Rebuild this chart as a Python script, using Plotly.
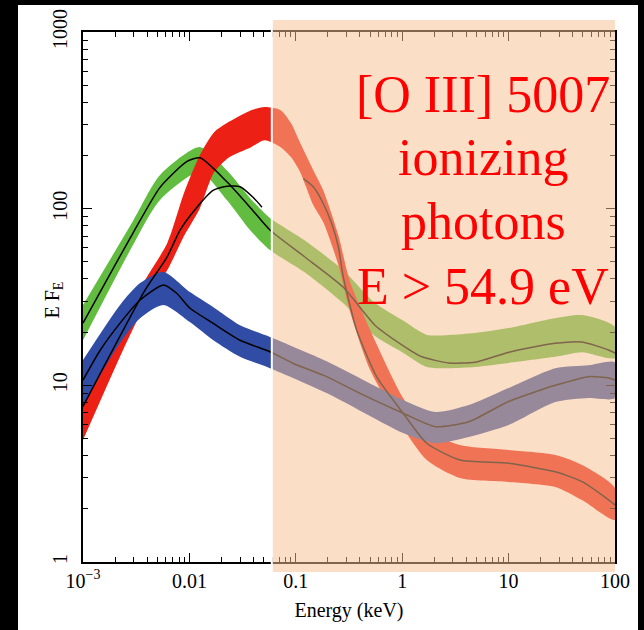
import numpy as np
import plotly.graph_objects as go

# ---------------- data ----------------
# Green model: centre line
green_E = [0.001, 0.00295, 0.0053, 0.0095, 0.0126, 0.0225, 0.0371, 0.0572, 0.12, 0.278,
           0.555, 1.0, 1.53, 2.75, 4.83, 10.1, 27.3, 49, 88, 100]
green_F = [22.5, 72.8, 132, 185, 194, 142, 102, 75.7, 53.6, 36,
           21.9, 16.9, 14.5, 13.4, 13.5, 15.4, 17.3, 17.6, 15.8, 15.2]
# Green band
green_bE = [0.001, 0.00295, 0.0053, 0.0126, 0.0225, 0.0371, 0.0572, 0.12, 0.278, 0.555,
            1.0, 1.7, 2.75, 4.83, 10, 27.3, 49, 100]
green_hi = [28.5, 85.1, 155, 223, 165, 115, 88.5, 66.4, 44.9, 29.2,
            23.4, 19.3, 19.3, 19.8, 21.1, 24.0, 25.0, 21.4]
green_lo = [18.0, 62.2, 112, 161, 112, 75.7, 58.3, 43.8, 29.2, 19.0,
            15.4, 12.7, 12.5, 12.7, 13.4, 14.5, 15.4, 14.3]

# Blue model
blue_E = [0.001, 0.00145, 0.00223, 0.00344, 0.00569, 0.00759, 0.01015, 0.0168, 0.0299, 0.0572,
          0.0948, 0.195, 0.401, 1.02, 2.05, 4.22, 10, 27.5, 56.5, 87.6, 100]
blue_F = [10.7, 15.8, 22.5, 30.4, 37, 33.2, 27.3, 22.4, 18, 15.5,
          13.3, 11.2, 9.0, 6.95, 5.83, 6.22, 8.1, 10.0, 11.2, 11.0, 10.7]
blue_bE = [0.001, 0.00223, 0.00344, 0.00569, 0.0101, 0.0168, 0.0299, 0.0572, 0.195, 1.02,
           2.05, 4.22, 10, 27.5, 56.5, 100]
blue_hi = [13.9, 28.5, 37.9, 43.8, 33.7, 27.7, 21.9, 18.8, 13.7, 8.26,
           7.06, 7.73, 9.65, 12.5, 13.0, 13.5]
blue_lo = [7.7, 17.4, 24.0, 28.5, 22.8, 18.0, 14.5, 12.5, 9.04, 5.37,
           4.71, 5.1, 5.96, 8.04, 8.47, 8.47]

# Red model: two pieces of centre line
red_E1 = [0.001, 0.00383, 0.00616, 0.00817, 0.01178, 0.01667, 0.0226, 0.0299, 0.0396, 0.0481]
red_F1 = [7.6, 34.6, 53.2, 75.7, 102, 127, 134, 133, 116, 102]
red_E2 = [0.1178, 0.146, 0.181, 0.217, 0.251, 0.279, 0.373, 0.575, 1.02, 1.7,
          3.49, 10, 27.5, 49, 87.6, 100]
red_F2 = [148, 133, 107, 82.6, 60.9, 41.2, 20.6, 11.2, 6.95, 4.7,
          3.78, 3.62, 3.24, 2.85, 2.24, 2.1]
red_bE = [0.001, 0.0025, 0.00383, 0.0062, 0.009, 0.0125, 0.017, 0.0235, 0.038, 0.051,
          0.072, 0.09, 0.11, 0.146, 0.181, 0.251, 0.32, 0.5, 1.02, 1.7,
          3.49, 10, 27.5, 49, 100]
red_hi = [8.81, 24.0, 39.4, 63.9, 125, 200, 270, 310, 361, 376,
          361, 305, 235, 165, 127, 70.9, 39.4, 20.6, 8.47, 5.58,
          4.59, 4.3, 4.03, 3.54, 2.62]
red_lo = [4.9, 16.9, 28.5, 44.9, 70.9, 100, 160, 195, 223, 244,
          223, 196, 161, 105, 84, 48, 26.7, 12.2, 5.73, 3.78,
          2.99, 2.84, 2.66, 2.24, 1.73]

x_tickvals = [0.001, 0.01, 0.1, 1, 10, 100]
x_ticktext = ["10<sup>\u22123</sup>", "0.01", "0.1", "1", "10", "100"]
y_tickvals = [1, 10, 100, 1000]
y_ticktext = ["1", "10", "100", "1000"]

shade_start_keV = 0.0595   # left edge of shaded region as drawn
shade_end_keV = 100

label_lines = ["[O III] 5007", "ionizing", "photons", "E > 54.9 eV"]

# ---------------- styling ----------------
GREEN = "rgb(98,188,64)"
RED = "rgb(236,32,20)"
BLUE = "rgb(48,76,164)"
SERIF = "Liberation Serif"

fig = go.Figure()


def band(E, hi, lo, color):
    fig.add_trace(go.Scatter(
        x=list(E) + list(E)[::-1], y=list(hi) + list(lo)[::-1],
        mode="lines", fill="toself", fillcolor=color,
        line=dict(width=0, shape="spline", smoothing=0.7, color=color),
        hoverinfo="skip", showlegend=False))


band(green_bE, green_hi, green_lo, GREEN)
band(red_bE, red_hi, red_lo, RED)
band(blue_bE, blue_hi, blue_lo, BLUE)

for E, F in [(green_E, green_F), (blue_E, blue_F), (red_E1, red_F1), (red_E2, red_F2)]:
    fig.add_trace(go.Scatter(x=E, y=F, mode="lines",
                             line=dict(color="black", width=1.5, shape="spline", smoothing=0.6),
                             hoverinfo="skip", showlegend=False))

minor_x = [k * 10.0 ** d for d in range(-3, 2) for k in range(2, 10)]
minor_y = [k * 10.0 ** d for d in range(0, 3) for k in range(2, 10)]

axis_common = dict(type="log", showgrid=False, zeroline=False, showline=True,
                   linecolor="black", linewidth=1.5, mirror="ticks",
                   ticks="inside", ticklen=9, tickwidth=1.2, tickcolor="black",
                   tickfont=dict(family=SERIF, size=20, color="black"),
                   automargin=False)

fig.update_xaxes(range=[-3, 2], tickmode="array", tickvals=x_tickvals, ticktext=x_ticktext,
                 minor=dict(ticks="inside", ticklen=5, tickwidth=1, tickcolor="black",
                            tickmode="array", tickvals=minor_x, showgrid=False),
                 title=dict(text="Energy (keV)", font=dict(family=SERIF, size=20, color="black"),
                            standoff=12),
                 **axis_common)
fig.update_yaxes(range=[0, 3], tickmode="array", tickvals=y_tickvals, ticktext=y_ticktext,
                 tickangle=-90, ticklabelstandoff=6,
                 minor=dict(ticks="inside", ticklen=5, tickwidth=1, tickcolor="black",
                            tickmode="array", tickvals=minor_y, showgrid=False),
                 **axis_common)

PW, PH = 532, 530
shapes = [
    dict(type="rect", xref="paper", yref="paper", x0=-65 / PW, x1=555 / PW,
         y0=-68 / PH, y1=557 / PH, fillcolor="white", line=dict(width=0), layer="below"),
    dict(type="rect", xref="x", yref="paper", x0=shade_start_keV, x1=shade_end_keV,
         y0=-10 / PH, y1=1 + 12 / PH, fillcolor="rgba(245,191,145,0.52)",
         line=dict(width=0), layer="above"),
    dict(type="line", xref="x", yref="paper", x0=shade_start_keV, x1=shade_start_keV,
         y0=-10 / PH, y1=1 + 12 / PH, line=dict(color="white", width=2), layer="above"),
]

annotations = [dict(text="E F<sub>E</sub>", xref="paper", yref="paper",
                    x=(38 - 83) / PW, y=(562 - 300) / PH, showarrow=False, textangle=-90,
                    font=dict(family=SERIF, size=20, color="black"))]
centers = [95, 158, 221, 286]
for txt, yc in zip(label_lines, centers):
    annotations.append(dict(text=txt, xref="paper", yref="paper", x=(483 - 83) / PW,
                            y=(562 - yc) / PH, xanchor="center", yanchor="middle",
                            showarrow=False,
                            font=dict(family=SERIF, size=52, color="#FF0000")))

fig.update_layout(width=644, height=630, paper_bgcolor="black",
                  plot_bgcolor="rgba(0,0,0,0)",
                  margin=dict(l=83, r=29, t=32, b=68),
                  shapes=shapes, annotations=annotations, showlegend=False)

fig.write_html("out.html")
